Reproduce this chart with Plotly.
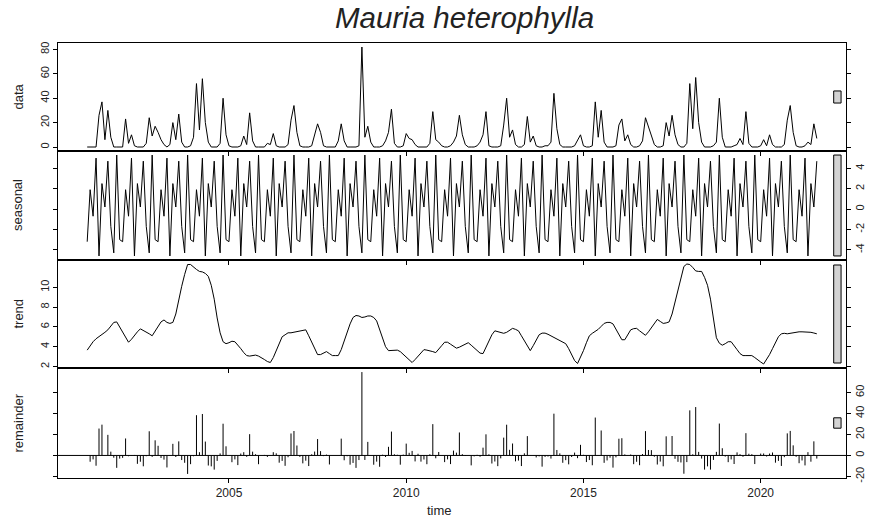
import plotly.graph_objects as go
from plotly.subplots import make_subplots

# ---------------- data (monthly, Jan 2001 - Aug 2021) ----------------
start_year = 2001
data_values = [
    0, 0, 0, 0, 26, 37, 6, 30, 8, 0, 0, 0,            # 2001
    0, 23, 3, 10, 1, 0, 0, 0, 3, 24, 9, 17,           # 2002
    12, 6, 2, 0, 2, 20, 6, 27, 4, 0, 0, 1,            # 2003
    8, 52, 14, 56, 20, 4, 0, 0, 0, 3, 40, 10,         # 2004
    1, 0, 0, 0, 1, 9, 2, 28, 5, 0, 0, 0,              # 2005
    0, 3, 2, 11, 1, 0, 0, 0, 2, 22, 34, 12,           # 2006
    1, 0, 0, 0, 1, 10, 19, 12, 1, 0, 0, 0,            # 2007
    0, 5, 19, 5, 0, 0, 0, 0, 1, 82, 8, 17,            # 2008
    4, 0, 0, 0, 1, 5, 12, 31, 3, 0, 0, 1,             # 2009
    11, 7, 6, 2, 0, 0, 0, 0, 3, 29, 6, 4,             # 2010
    1, 0, 0, 1, 4, 9, 26, 10, 2, 0, 0, 0,             # 2011
    1, 4, 10, 29, 1, 0, 0, 0, 1, 18, 40, 8,           # 2012
    14, 2, 0, 0, 2, 25, 4, 9, 1, 0, 0, 1,             # 2013
    1, 4, 44, 15, 2, 0, 0, 0, 0, 1, 5, 10,            # 2014
    1, 0, 0, 1, 37, 8, 30, 4, 0, 0, 0, 1,             # 2015
    18, 23, 5, 10, 2, 0, 0, 1, 5, 24, 16, 8,          # 2016
    2, 0, 0, 1, 20, 9, 26, 10, 2, 0, 0, 3,            # 2017
    52, 15, 57, 20, 4, 0, 0, 0, 1, 4, 40, 8,          # 2018
    0, 0, 0, 1, 2, 7, 2, 29, 3, 0, 0, 0,              # 2019
    1, 6, 1, 10, 2, 0, 0, 0, 2, 22, 34, 12,           # 2020
    1, 0, 0, 1, 4, 2, 19, 7,                          # 2021
]
seasonal_pattern = [-3.2, 1.9, -0.7, 5.0, -4.6, 2.5, 0.2, 4.7, -1.7, -4.3, 5.3, -3.0]
trend_values = [
    3.65, 4.1, 4.5, 4.8, 5.0, 5.2, 5.45, 5.7, 6.1, 6.45, 6.5, 6.0,
    5.5, 4.95, 4.45, 4.75, 5.15, 5.5, 5.8, 5.65, 5.45, 5.3, 5.1, 5.6,
    6.0, 6.5, 6.7, 6.45, 6.35, 6.45, 7.3, 8.9, 10.1, 11.3, 12.3, 12.3,
    12.0, 11.8, 11.6, 11.55, 11.4, 11.1, 10.2, 8.8, 6.9, 5.4, 4.5, 4.3,
    4.4, 4.55, 4.5, 4.2, 3.8, 3.4, 3.1, 3.05, 3.1, 3.15, 3.05, 2.9,
    2.7, 2.5, 2.4, 2.9, 3.6, 4.4, 5.0, 5.2, 5.4, 5.4, 5.45, 5.55,
    5.6, 5.65, 5.7, 5.1, 4.5, 3.8, 3.2, 3.2, 3.35, 3.5, 3.3, 3.1,
    3.1, 3.1, 3.7, 4.6, 5.4, 6.3, 6.95, 7.15, 7.1, 6.95, 7.0, 7.1,
    7.1, 6.95, 6.6, 5.8, 4.9, 4.0, 3.6, 3.6, 3.6, 3.65, 3.5, 3.2,
    2.95, 2.6, 2.4, 2.7, 3.0, 3.4, 3.7, 3.65, 3.6, 3.5, 3.4, 3.7,
    4.1, 4.45, 4.45, 4.25, 4.0, 3.85, 3.95, 4.1, 4.25, 4.4, 4.15, 3.9,
    3.6, 3.35, 3.3, 3.9, 4.5, 5.2, 5.6, 5.5, 5.45, 5.35, 5.45, 5.65,
    5.85, 5.75, 5.6, 5.1, 4.6, 4.1, 3.6, 4.1, 4.6, 5.2, 5.37, 5.37,
    5.25, 5.1, 4.95, 4.8, 4.65, 4.5, 4.3, 3.8, 3.2, 2.6, 2.3, 2.9,
    3.6, 4.4, 5.1, 5.35, 5.55, 5.75, 6.05, 6.35, 6.45, 6.45, 6.3, 5.8,
    5.3, 4.7, 4.7, 5.2, 5.7, 5.82, 5.85, 5.6, 5.35, 5.15, 5.5, 5.95,
    6.4, 6.75, 6.55, 6.35, 6.4, 6.5, 7.3, 8.5, 9.8, 11.0, 12.1, 12.35,
    12.3, 12.0, 11.65, 11.6, 11.6, 11.0, 10.2, 8.8, 7.0, 4.9, 4.35, 4.15,
    4.3, 4.5, 4.5, 4.15, 3.7, 3.3, 3.1, 3.1, 3.1, 3.1, 2.9, 2.65,
    2.45, 2.25, 2.7, 3.2, 3.8, 4.4, 5.0, 5.3, 5.35, 5.3, 5.35, 5.4,
    5.5, 5.5, 5.5, 5.5, 5.47, 5.45, 5.38, 5.3,
]
panel_names = ["data", "seasonal", "trend", "remainder"]
time_ticks = [2005, 2010, 2015, 2020]
y_ticks = {
    "data": [0, 20, 40, 60, 80],
    "seasonal": [-4, -2, 0, 2, 4],
    "trend": [2, 4, 6, 8, 10],
    "remainder": [-20, 0, 20, 40, 60],
}
title_text = "Mauria heterophylla"

# ---------------- derived ----------------
n = len(data_values)
time = [start_year + i / 12 for i in range(n)]
seasonal_values = [seasonal_pattern[i % 12] for i in range(n)]
remainder_values = [d - s - t for d, s, t in zip(data_values, seasonal_values, trend_values)]
series = {
    "data": data_values,
    "seasonal": seasonal_values,
    "trend": trend_values,
    "remainder": remainder_values,
}

FONT = "Liberation Sans, Arial, Helvetica, sans-serif"
W, H = 878, 523
ML, MR, MT, MB = 58, 21, 43, 45
pw = W - ML - MR
ph = H - MT - MB
heights = [108, 109, 108, 110]
domains = []
top = 1.0
for h in heights:
    bottom = top - h / ph
    domains.append([max(bottom, 0), top])
    top = bottom

fig = make_subplots(rows=4, cols=1, shared_xaxes=False, vertical_spacing=0)

t0, t1 = time[0], time[-1]
dxr = t1 - t0
xr = [t0 - 0.04 * dxr, t1 + 0.04 * dxr]

ranges = {k: (min(v), max(v)) for k, v in series.items()}
mx = min(hi - lo for lo, hi in ranges.values())

for idx, name in enumerate(panel_names):
    row = idx + 1
    vals = series[name]
    if name != "remainder":
        fig.add_trace(go.Scatter(x=time, y=vals, mode="lines",
                                 line=dict(color="black", width=1),
                                 showlegend=False, hoverinfo="skip"), row=row, col=1)
    else:
        xs, ys = [], []
        for t, v in zip(time, vals):
            xs += [t, t, None]
            ys += [0, v, None]
        fig.add_trace(go.Scatter(x=xs, y=ys, mode="lines",
                                 line=dict(color="black", width=1),
                                 showlegend=False, hoverinfo="skip"), row=row, col=1)
    lo, hi = ranges[name]
    pad = 0.04 * (hi - lo)
    yr = [lo - pad, hi + pad]
    right = (idx % 2 == 1)
    axname = "yaxis" if row == 1 else f"yaxis{row}"
    xname = "xaxis" if row == 1 else f"xaxis{row}"
    fig.layout[axname].update(
        domain=domains[idx], range=yr, tickvals=y_ticks[name],
        ticktext=[str(v) for v in y_ticks[name]],
        side="right" if right else "left",
        ticks="outside", ticklen=4, tickcolor="black", tickwidth=1,
        showline=True, linecolor="black", linewidth=1, mirror="ticks",
        showgrid=False, zeroline=False, tickangle=-90,
        tickfont=dict(family=FONT, size=11, color="#222"),
    )
    fig.layout[xname].update(
        range=xr, tickvals=time_ticks, ticktext=[str(v) for v in time_ticks],
        showticklabels=(row == 4), ticks="outside", ticklen=4,
        tickcolor="black", tickwidth=1,
        showline=True, linecolor="black", linewidth=1, mirror=True,
        showgrid=False, zeroline=False,
        tickfont=dict(family=FONT, size=12, color="#222"),
    )
    my = (lo + hi) / 2
    xref = "x" if row == 1 else f"x{row}"
    yref = "y" if row == 1 else f"y{row}"
    dxb = (xr[1] - xr[0]) / 64
    fig.add_shape(type="rect", xref=xref, yref=yref,
                  x0=xr[1] - dxb, x1=xr[1] - 0.4 * dxb,
                  y0=my - mx / 2, y1=my + mx / 2,
                  fillcolor="#d3d3d3", line=dict(color="black", width=1))
    fig.add_annotation(text=name, xref="paper", yref="paper",
                       x=(17 - ML) / pw, y=sum(domains[idx]) / 2,
                       textangle=-90, showarrow=False, xanchor="center", yanchor="middle",
                       font=dict(family=FONT, size=13, color="#222"))

fig.add_shape(type="line", xref="x4 domain", yref="y4", x0=0, x1=1, y0=0, y1=0,
              line=dict(color="black", width=1))

fig.add_annotation(text="time", xref="paper", yref="paper", x=(445 - ML) / pw,
                   y=-(511 - (H - MB)) / ph, showarrow=False, xanchor="center", yanchor="middle",
                   font=dict(family=FONT, size=13, color="#222"))

fig.add_annotation(text=f"<i>{title_text}</i>", xref="paper", yref="paper",
                   x=(470 - ML) / pw, y=1 + (MT - 18) / ph, showarrow=False,
                   xanchor="center", yanchor="middle",
                   font=dict(family=FONT, size=29.5, color="#222"))

fig.update_layout(
    width=W, height=H, margin=dict(l=ML, r=MR, t=MT, b=MB),
    paper_bgcolor="white", plot_bgcolor="white",
)

fig.write_html("out.html")
